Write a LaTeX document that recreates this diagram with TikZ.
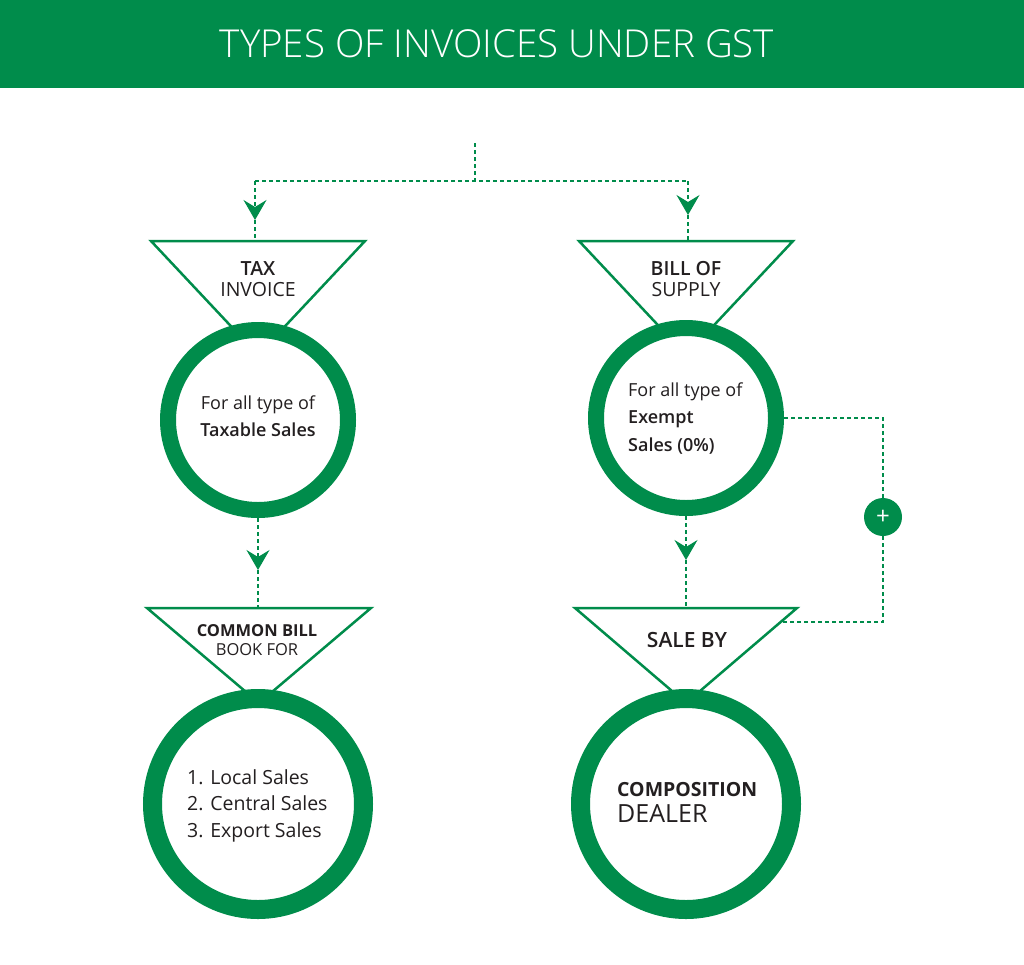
\documentclass[tikz,border=0pt]{standalone}
\usepackage{fontspec}
\setmainfont{Open Sans}
\newfontfamily\lightfont{Open Sans Light}
\newfontfamily\semifont{Open Sans Semibold}
\usetikzlibrary{arrows.meta}
\definecolor{gstgreen}{RGB}{0,140,75}
\definecolor{txt}{RGB}{35,31,32}
\begin{document}
\begin{tikzpicture}[x=1pt,y=-1pt,
  tri/.style={draw=gstgreen, line width=2.5pt, line join=miter},
  ring/.style={circle, draw=gstgreen, fill=white, inner sep=0pt},
  smallring/.style={ring, line width=16pt, minimum size=180pt},
  bigring/.style={ring, line width=19pt, minimum size=211pt},
  flow/.style={draw=gstgreen, line width=2.8pt, dash pattern=on 4pt off 3pt},
  tip/.style={-{Stealth[length=20pt,width=23pt,inset=7pt,line width=1pt]}},
  lbl/.style={text=txt, inner sep=0pt, align=center},
  body/.style={text=txt, inner sep=0pt}]
\useasboundingbox (0,0) rectangle (1024,964);
% header
\fill[gstgreen] (0,0) rectangle (1024,88);
\node[text=white, inner sep=0pt, font=\lightfont\fontsize{38.5}{38.5}\selectfont] (title) at (497,44) {TYPES OF INVOICES UNDER GST};

% coordinates
\coordinate (top) at (475,143);
\coordinate (j) at (475,181);
\coordinate (jl) at (255,181);
\coordinate (jr) at (688,181);
\coordinate (a1) at (255,220);
\coordinate (a2) at (688,215);
\coordinate (t1) at (255,241);
\coordinate (t2) at (688,241);
\coordinate (a3) at (258,570);
\coordinate (t3) at (258,608);
\coordinate (a4) at (686,560);
\coordinate (t4) at (686,608);
\coordinate (k1) at (883,418);
\coordinate (k2) at (883,622);
\coordinate (e4) at (781,622);

% triangles
\draw[tri] (151,241) -- (365,241) -- (258,355) -- cycle;
\draw[tri] (579,241) -- (793,241) -- (686,355) -- cycle;
\draw[tri] (147,608) -- (371,608) -- (259,703) -- cycle;
\draw[tri] (575,608) -- (797,608) -- (686,703) -- cycle;

% circles
\node[smallring] (c1) at (258,420) {};
\node[smallring] (c2) at (686,418) {};
\node[bigring] (c3) at (258,804) {};
\node[bigring] (c4) at (686,804) {};

% connectors
\draw[flow] (top) -- (j);
\draw[flow] (jl) -- (jr);
\draw[flow, tip] (jl) -- (a1);
\draw[flow] (a1) -- (t1);
\draw[flow, tip] (jr) -- (a2);
\draw[flow] (a2) -- (t2);
\draw[flow, tip] (c1.south) -- (a3);
\draw[flow] (a3) -- (t3);
\draw[flow, tip] (c2.south) -- (a4);
\draw[flow] (a4) -- (t4);
\draw[flow] (c2.east) -- (k1) -- (k2) -- (e4);
\node[circle, fill=gstgreen, minimum size=38pt, inner sep=0pt, text=white,
      font=\fontsize{24}{24}\selectfont] (plus) at (883,517) {+};

% triangle labels
\node[lbl, font=\fontsize{19.5}{21}\selectfont] (n1) at (258,279.5) {{\semifont TAX}\\INVOICE};
\node[lbl, font=\fontsize{19.5}{21}\selectfont] (n2) at (686,279) {{\semifont BILL OF}\\SUPPLY};
\node[lbl, font=\fontsize{16.5}{19}\selectfont] (n3) at (257,640.5) {{\bfseries COMMON BILL}\\BOOK FOR};
\node[lbl, font=\fontsize{21}{21}\selectfont] (n4) at (687,639.5) {\semifont SALE BY};

% circle texts
\node[body, align=center, font=\fontsize{18}{27}\selectfont] (p1) at (258,416.5)
  {For all type of\\{\semifont Taxable Sales}};
\node[body, align=left, anchor=west, font=\fontsize{18}{27.5}\selectfont] (p2) at (628,418.5)
  {For all type of\\{\semifont Exempt}\\{\semifont Sales (0\%)}};
\node[body, align=left, anchor=west, font=\fontsize{19.5}{26.5}\selectfont] (p3) at (187,805.5)
  {1. Local Sales\\2. Central Sales\\3. Export Sales};
\node[body, align=left, anchor=west, font=\fontsize{19.5}{26}\selectfont] (p4) at (617,802)
  {{\bfseries COMPOSITION}\\{\fontsize{25}{26}\selectfont DEALER}};
\end{tikzpicture}
\end{document}
